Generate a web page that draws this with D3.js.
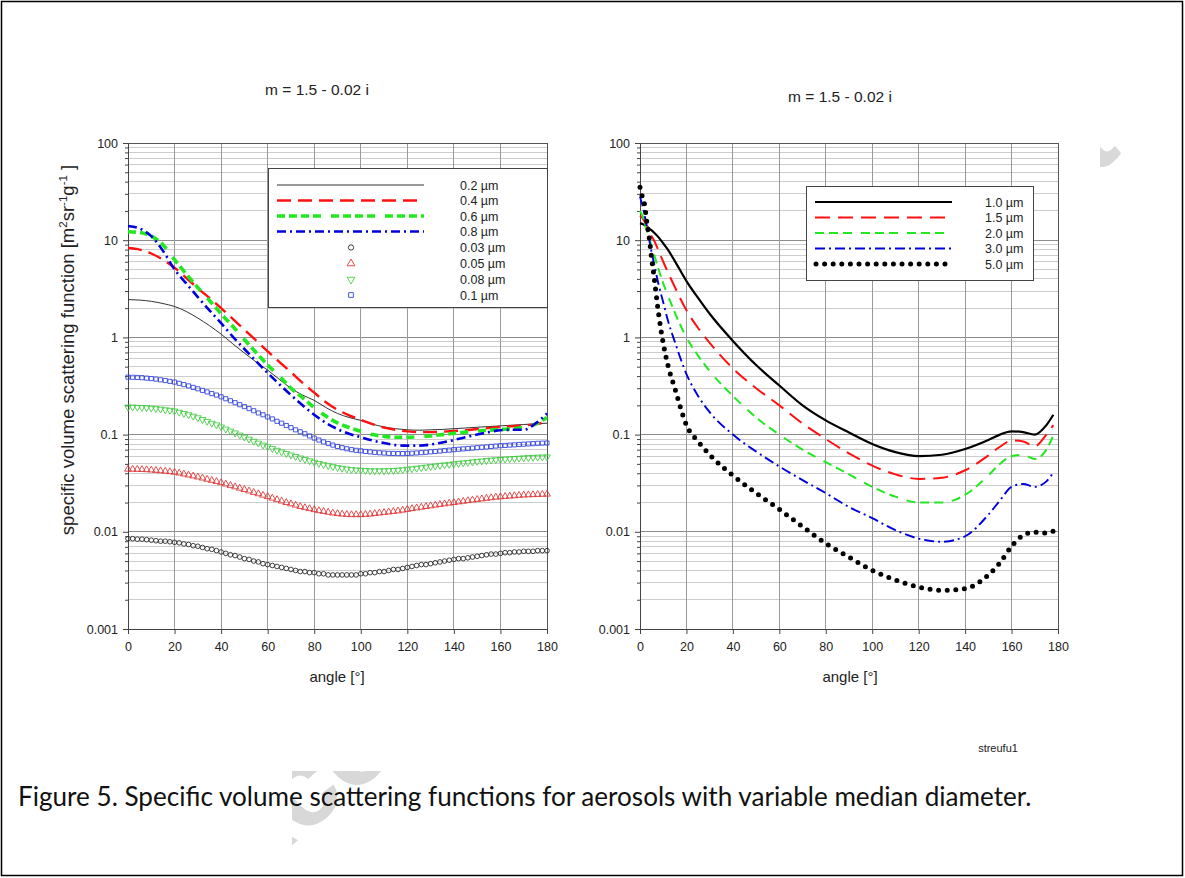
<!DOCTYPE html>
<html>
<head>
<meta charset="utf-8">
<script src="https://cdn.jsdelivr.net/npm/d3@7"></script>
<style>
  body { margin: 0; background: #fff; }
  svg { display: block; }
</style>
</head>
<body>
<svg id="fig" width="1185" height="878"></svg>
<script>
// ---------- data ----------
const X_TICKS = [0, 20, 40, 60, 80, 100, 120, 140, 160, 180];
const Y_TICKS = [0.001, 0.01, 0.1, 1, 10, 100];
const Y_LABELS = ["0.001", "0.01", "0.1", "1", "10", "100"];

// left panel: line series (angle grid every 5°)
const L_ANGLES = [0,5,10,15,20,25,30,35,40,45,50,55,60,65,70,75,80,85,90,95,100,105,110,115,120,125,130,135,140,145,150,155,160,165,170,175,180];
const d02 = [2.45,2.42,2.35,2.23,2.08,1.85,1.58,1.32,1.08,0.86,0.69,0.56,0.46,0.37,0.30,0.255,0.225,0.19,0.165,0.15,0.14,0.128,0.12,0.115,0.112,0.111,0.112,0.113,0.115,0.117,0.119,0.121,0.123,0.125,0.127,0.129,0.131];
const d04 = [8.3,8.0,7.3,6.3,5.2,4.1,3.2,2.55,2.0,1.55,1.2,0.93,0.72,0.56,0.44,0.34,0.27,0.215,0.18,0.158,0.142,0.128,0.118,0.112,0.108,0.106,0.106,0.107,0.109,0.111,0.114,0.117,0.12,0.122,0.124,0.128,0.135];
const d06 = [12.2,12.0,11.0,9.0,6.3,4.5,3.25,2.4,1.75,1.3,0.95,0.7,0.52,0.4,0.3,0.24,0.19,0.155,0.132,0.118,0.108,0.1,0.096,0.094,0.094,0.095,0.097,0.1,0.103,0.106,0.109,0.111,0.113,0.115,0.118,0.128,0.15];
const d08 = [14,13.2,11.0,7.8,5.0,3.6,2.6,1.9,1.4,1.02,0.76,0.57,0.43,0.33,0.255,0.2,0.16,0.132,0.114,0.102,0.094,0.087,0.082,0.078,0.077,0.077,0.079,0.083,0.088,0.094,0.1,0.106,0.111,0.112,0.112,0.13,0.165];

// left panel: marker series (angle grid every 2°)
const M_ANGLES = d3.range(0, 181, 2);
const d003 = [0.0085,0.0085,0.0084,0.0084,0.0083,0.0082,0.0081,0.0080,0.0080,0.0079,0.0078,0.0077,0.0075,0.0074,0.0072,0.0071,0.0069,0.0067,0.0066,0.0064,0.0062,0.0060,0.0058,0.0057,0.0055,0.0053,0.0052,0.0050,0.0049,0.0047,0.0046,0.0045,0.0044,0.0043,0.0042,0.0041,0.0040,0.0039,0.0039,0.0038,0.0038,0.0037,0.0037,0.0036,0.0036,0.0036,0.0036,0.0036,0.0036,0.0036,0.0037,0.0037,0.0038,0.0038,0.0039,0.0039,0.0040,0.0041,0.0041,0.0042,0.0043,0.0044,0.0045,0.0046,0.0046,0.0047,0.0048,0.0049,0.0050,0.0051,0.0052,0.0053,0.0053,0.0054,0.0055,0.0056,0.0057,0.0058,0.0059,0.0059,0.0060,0.0061,0.0061,0.0062,0.0062,0.0063,0.0063,0.0063,0.0064,0.0064,0.0064];
const d005 = [0.0440,0.0440,0.0439,0.0437,0.0435,0.0432,0.0428,0.0424,0.0420,0.0415,0.0410,0.0402,0.0393,0.0384,0.0375,0.0366,0.0357,0.0347,0.0338,0.0329,0.0320,0.0310,0.0300,0.0290,0.0281,0.0272,0.0263,0.0254,0.0246,0.0238,0.0230,0.0222,0.0214,0.0207,0.0200,0.0194,0.0188,0.0182,0.0177,0.0173,0.0169,0.0165,0.0162,0.0159,0.0156,0.0154,0.0152,0.0151,0.0150,0.0150,0.0150,0.0151,0.0152,0.0154,0.0156,0.0158,0.0160,0.0162,0.0164,0.0167,0.0170,0.0173,0.0176,0.0179,0.0182,0.0185,0.0188,0.0191,0.0194,0.0197,0.0200,0.0203,0.0206,0.0209,0.0212,0.0215,0.0218,0.0221,0.0224,0.0227,0.0229,0.0231,0.0233,0.0235,0.0237,0.0239,0.0240,0.0241,0.0242,0.0243,0.0244];
const d008 = [0.192,0.192,0.191,0.190,0.189,0.187,0.185,0.183,0.180,0.178,0.175,0.170,0.165,0.160,0.155,0.149,0.143,0.137,0.131,0.126,0.120,0.114,0.109,0.104,0.0990,0.0942,0.0898,0.0856,0.0817,0.0781,0.0750,0.0719,0.0690,0.0664,0.0640,0.0617,0.0595,0.0575,0.0556,0.0538,0.0520,0.0505,0.0491,0.0479,0.0468,0.0458,0.0450,0.0443,0.0437,0.0433,0.0430,0.0427,0.0425,0.0424,0.0424,0.0425,0.0426,0.0428,0.0431,0.0435,0.0440,0.0445,0.0451,0.0457,0.0463,0.0469,0.0475,0.0482,0.0488,0.0494,0.0500,0.0506,0.0512,0.0518,0.0524,0.0530,0.0535,0.0541,0.0546,0.0551,0.0556,0.0560,0.0564,0.0568,0.0572,0.0576,0.0580,0.0583,0.0586,0.0588,0.0590];
const d01 = [0.390,0.389,0.387,0.385,0.381,0.377,0.372,0.366,0.360,0.353,0.347,0.337,0.327,0.317,0.306,0.296,0.285,0.275,0.264,0.255,0.245,0.234,0.223,0.213,0.203,0.194,0.185,0.176,0.167,0.160,0.152,0.145,0.137,0.131,0.124,0.118,0.112,0.107,0.102,0.0968,0.0920,0.0879,0.0841,0.0809,0.0780,0.0755,0.0733,0.0715,0.0700,0.0689,0.0681,0.0671,0.0664,0.0656,0.0650,0.0646,0.0641,0.0640,0.0638,0.0638,0.0640,0.0643,0.0647,0.0652,0.0658,0.0665,0.0671,0.0678,0.0686,0.0692,0.0700,0.0706,0.0713,0.0719,0.0726,0.0733,0.0740,0.0746,0.0755,0.0762,0.0769,0.0774,0.0780,0.0785,0.0791,0.0796,0.0802,0.0807,0.0813,0.0817,0.0820];

// right panel: line series
const R_ANGLES = [0,1,2,3,4,5,6,8,10,12,15,20,25,30,40,50,60,70,80,90,100,110,120,130,140,150,155,160,165,170,175,178];
const d10 = [15,14.7,14.3,13.8,13.2,12.6,12.0,10.7,9.3,8.0,6.1,3.8,2.55,1.75,0.92,0.52,0.32,0.2,0.14,0.105,0.08,0.066,0.06,0.062,0.071,0.088,0.1,0.108,0.106,0.1,0.125,0.16];
const d15 = [18,17,15.5,14,12.5,11,10,7.8,6,4.7,3.3,1.9,1.25,0.88,0.48,0.3,0.2,0.13,0.09,0.064,0.048,0.039,0.035,0.036,0.043,0.061,0.075,0.087,0.085,0.076,0.1,0.125];
const d20 = [20,18,15,12.5,10.5,8.7,7.2,5,3.6,2.7,1.8,1.0,0.65,0.45,0.25,0.15,0.1,0.07,0.052,0.039,0.029,0.023,0.02,0.02,0.024,0.038,0.05,0.06,0.062,0.056,0.07,0.098];
const d30 = [28,23,18,13.5,10,7.5,5.8,3.5,2.3,1.5,0.9,0.42,0.25,0.17,0.1,0.067,0.047,0.034,0.025,0.018,0.0138,0.0104,0.0085,0.0079,0.009,0.015,0.021,0.029,0.031,0.029,0.033,0.041];
const d50 = [35,28,23,15,10.5,6.5,4.3,1.75,0.87,0.52,0.3,0.125,0.085,0.062,0.038,0.025,0.017,0.0113,0.0076,0.0055,0.004,0.0032,0.0027,0.0025,0.0026,0.0036,0.0048,0.0071,0.0092,0.0099,0.0097,0.0102];

const LEFT_LINE_LABELS = ["0.2 µm", "0.4 µm", "0.6 µm", "0.8 µm"];
const LEFT_MARK_LABELS = ["0.03 µm", "0.05 µm", "0.08 µm", "0.1 µm"];
const RIGHT_LABELS = ["1.0 µm", "1.5 µm", "2.0 µm", "3.0 µm", "5.0 µm"];

// ---------- styles ----------
const FONT = "'Liberation Sans', Arial, sans-serif";
const RED = "#ff1111", GREEN = "#22e822", BLUE = "#0000dd";

const leftLines = [
  { label: LEFT_LINE_LABELS[0], values: d02, color: "#333", width: 1, dash: null },
  { label: LEFT_LINE_LABELS[1], values: d04, color: RED, width: 2.4, dash: "14 7" },
  { label: LEFT_LINE_LABELS[2], values: d06, color: GREEN, width: 3.6, dash: "8 4 8 4 8 4 8 10" },
  { label: LEFT_LINE_LABELS[3], values: d08, color: BLUE, width: 2.6, dash: "9 4 2 4" }
];
const leftMarks = [
  { label: LEFT_MARK_LABELS[0], values: d003, color: "#222", type: "circle" },
  { label: LEFT_MARK_LABELS[1], values: d005, color: "#e03030", type: "up" },
  { label: LEFT_MARK_LABELS[2], values: d008, color: "#3ccc3c", type: "down" },
  { label: LEFT_MARK_LABELS[3], values: d01, color: "#2b3bdd", type: "square" }
];
const rightLines = [
  { label: RIGHT_LABELS[0], values: d10, color: "#000", width: 2.2, dash: null },
  { label: RIGHT_LABELS[1], values: d15, color: RED, width: 2, dash: "15 8" },
  { label: RIGHT_LABELS[2], values: d20, color: GREEN, width: 2, dash: "9 5 9 5 9 9" },
  { label: RIGHT_LABELS[3], values: d30, color: BLUE, width: 1.9, dash: "10 4 2 4" },
  { label: RIGHT_LABELS[4], values: d50, color: "#000", width: 5, dash: "0 8.6", cap: "round" }
];

const svg = d3.select("#fig");

// page frame
svg.append("rect").attr("x", 1.5).attr("y", 1.5).attr("width", 1181).attr("height", 874)
  .attr("fill", "#fff").attr("stroke", "#000").attr("stroke-width", 1.5);

// faint diagonal stamp behind the figure
svg.append("clipPath").attr("id", "stampClip").append("rect")
  .attr("x", 292).attr("y", 3).attr("width", 889).attr("height", 871);
svg.append("g").attr("clip-path", "url(#stampClip)")
  .append("text")
  .attr("transform", "translate(237,891) rotate(-39.8)")
  .attr("font-family", FONT).attr("font-weight", "bold").attr("font-size", 114)
  .attr("fill", "#d8d8d8")
  .text("Accepted Manuscript");

// figure sheet covering the stamp
svg.append("rect").attr("x", 30).attr("y", 40).attr("width", 1070).attr("height", 731).attr("fill", "#fff");

const symbolType = { circle: d3.symbolCircle, up: d3.symbolTriangle, down: d3.symbolTriangle, square: d3.symbolSquare };
const symbolSize = { circle: 17, up: 20, down: 20, square: 17 };

function drawPanel(cfg) {
  const g = svg.append("g");
  const x = d3.scaleLinear().domain([0, 180]).range([cfg.x0, cfg.x1]);
  const y = d3.scaleLog().domain([0.001, 100]).range([629, 143]);

  // minor horizontal grid
  const minor = [];
  Y_TICKS.slice(0, -1).forEach(d => { for (let k = 2; k <= 9; k++) minor.push(k * d); });
  g.selectAll(null).data(minor).join("line")
    .attr("x1", x(0)).attr("x2", x(180)).attr("y1", d => y(d)).attr("y2", d => y(d))
    .attr("stroke", "#cdcdcd").attr("stroke-width", 1).attr("shape-rendering", "crispEdges");
  g.selectAll(null).data(Y_TICKS.slice(1, -1)).join("line")
    .attr("x1", x(0)).attr("x2", x(180)).attr("y1", d => y(d)).attr("y2", d => y(d))
    .attr("stroke", "#8c8c8c").attr("stroke-width", 1).attr("shape-rendering", "crispEdges");
  g.selectAll(null).data(X_TICKS.slice(1, -1)).join("line")
    .attr("x1", d => x(d)).attr("x2", d => x(d)).attr("y1", y(100)).attr("y2", y(0.001))
    .attr("stroke", "#9a9a9a").attr("stroke-width", 1).attr("shape-rendering", "crispEdges");
  g.append("rect").attr("x", x(0)).attr("y", y(100)).attr("width", x(180) - x(0)).attr("height", y(0.001) - y(100))
    .attr("fill", "none").attr("stroke", "#555").attr("stroke-width", 1).attr("shape-rendering", "crispEdges");

  // axes
  const ax = g.append("g").attr("transform", `translate(${x(0)},0)`)
    .call(d3.axisLeft(y).tickValues(Y_TICKS).tickFormat((d, i) => Y_LABELS[i]).tickSize(5).tickPadding(5));
  const axm = g.append("g").attr("transform", `translate(${x(0)},0)`)
    .call(d3.axisLeft(y).tickValues(minor).tickFormat("").tickSize(3));
  const bx = g.append("g").attr("transform", `translate(0,${y(0.001)})`)
    .call(d3.axisBottom(x).tickValues(X_TICKS).tickSize(5).tickPadding(8));
  [ax, axm, bx].forEach(a => {
    a.select(".domain").attr("stroke", "#444");
    a.selectAll(".tick line").attr("stroke", "#444");
    a.selectAll("text").attr("font-family", FONT).attr("font-size", 12.5).attr("fill", "#222");
  });

  // titles
  g.append("text").attr("x", cfg.titleX).attr("y", cfg.titleY).attr("text-anchor", "middle")
    .attr("font-family", FONT).attr("font-size", 15.5).attr("fill", "#222").text("m = 1.5 - 0.02 i");
  g.append("text").attr("x", cfg.xLabelX).attr("y", 682).attr("text-anchor", "middle")
    .attr("font-family", FONT).attr("font-size", 15).attr("fill", "#222").text("angle [°]");

  const clipId = "clip" + cfg.id;
  svg.append("clipPath").attr("id", clipId).append("rect")
    .attr("x", x(0) - 4).attr("y", y(100)).attr("width", x(180) - x(0) + 8).attr("height", y(0.001) - y(100));
  const plot = g.append("g").attr("clip-path", `url(#${clipId})`);
  return { x, y, g, plot };
}

function drawLines(p, series, angles) {
  const line = d3.line().x((d, i) => p.x(angles[i])).y(d => p.y(d)).curve(d3.curveMonotoneX);
  series.forEach(s => {
    p.plot.append("path").attr("d", line(s.values)).attr("fill", "none")
      .attr("stroke", s.color).attr("stroke-width", s.width)
      .attr("stroke-dasharray", s.dash).attr("stroke-linecap", s.cap || "butt");
  });
}

function marker(sel, s, scale) {
  sel.attr("d", d3.symbol().type(symbolType[s.type]).size(symbolSize[s.type] * (scale || 1)))
    .attr("fill", "none").attr("stroke", s.color).attr("stroke-width", 0.85);
}

// ---------- left panel ----------
const L = drawPanel({ id: "L", x0: 128, x1: 547, titleX: 317, titleY: 95, xLabelX: 337 });
drawLines(L, leftLines, L_ANGLES);
leftMarks.forEach(s => {
  L.plot.selectAll(null).data(s.values).join("path")
    .attr("transform", (d, i) => `translate(${L.x(M_ANGLES[i])},${L.y(d)})` + (s.type === "down" ? " rotate(180)" : ""))
    .call(sel => marker(sel, s));
});

// y axis title with superscripts
const yt = svg.append("text").attr("transform", "translate(74,350) rotate(-90)")
  .attr("text-anchor", "middle").attr("font-family", FONT).attr("font-size", 18.5).attr("fill", "#222");
yt.append("tspan").text("specific volume scattering function [m");
yt.append("tspan").attr("dy", -7).attr("font-size", 11.5).text("2");
yt.append("tspan").attr("dy", 7).text("sr");
yt.append("tspan").attr("dy", -7).attr("font-size", 11.5).text("-1");
yt.append("tspan").attr("dy", 7).text("g");
yt.append("tspan").attr("dy", -7).attr("font-size", 11.5).text("-1");
yt.append("tspan").attr("dy", 7).text(" ]");

// left legend
const lg = svg.append("g");
lg.append("rect").attr("x", 268.5).attr("y", 168.5).attr("width", 279).attr("height", 139)
  .attr("fill", "#fff").attr("stroke", "#444").attr("stroke-width", 1);
const leftRows = [185, 200.5, 216, 231.5, 247.5, 263.5, 279.5, 295];
leftLines.forEach((s, i) => {
  lg.append("line").attr("x1", 277).attr("x2", 424).attr("y1", leftRows[i]).attr("y2", leftRows[i])
    .attr("stroke", i === 0 ? "#777" : s.color).attr("stroke-width", i === 0 ? 1.6 : s.width).attr("stroke-dasharray", s.dash);
  lg.append("text").attr("x", 460).attr("y", leftRows[i] + 4.5).attr("font-family", FONT).attr("font-size", 12.5)
    .attr("fill", "#222").text(s.label);
});
leftMarks.forEach((s, i) => {
  const r = leftRows[i + 4];
  lg.append("path").attr("transform", `translate(351,${r})` + (s.type === "down" ? " rotate(180)" : ""))
    .call(sel => marker(sel, s, 1.3));
  lg.append("text").attr("x", 460).attr("y", r + 4.5).attr("font-family", FONT).attr("font-size", 12.5)
    .attr("fill", "#222").text(s.label);
});

// ---------- right panel ----------
const R = drawPanel({ id: "R", x0: 640, x1: 1058, titleX: 840, titleY: 102, xLabelX: 850 });
drawLines(R, rightLines, R_ANGLES);

const rg = svg.append("g");
rg.append("rect").attr("x", 806.5).attr("y", 186.5).attr("width", 227).attr("height", 94)
  .attr("fill", "#fff").attr("stroke", "#444").attr("stroke-width", 1);
const rightRows = [202, 217.5, 233, 248.5, 264];
rightLines.forEach((s, i) => {
  rg.append("line").attr("x1", s.cap ? 816 : 815).attr("x2", 952).attr("y1", rightRows[i]).attr("y2", rightRows[i])
    .attr("stroke", s.color).attr("stroke-width", s.width).attr("stroke-dasharray", s.dash)
    .attr("stroke-linecap", s.cap || "butt");
  rg.append("text").attr("x", 985).attr("y", rightRows[i] + 4.5).attr("font-family", FONT).attr("font-size", 12.5)
    .attr("fill", "#222").text(s.label);
});

svg.append("text").attr("x", 998).attr("y", 752).attr("text-anchor", "middle")
  .attr("font-family", FONT).attr("font-size", 11).attr("fill", "#222").text("streufu1");

// caption
const cap = svg.append("text").attr("x", 18).attr("y", 806)
  .attr("font-family", "Lato, 'Open Sans', sans-serif").attr("font-size", 22).attr("fill", "#111")
  .text("Figure 5. Specific volume scattering functions for aerosols with variable median diameter.");
const capW = cap.node().getComputedTextLength();
cap.attr("font-size", 22 * 1014 / capW);
</script>
</body>
</html>
